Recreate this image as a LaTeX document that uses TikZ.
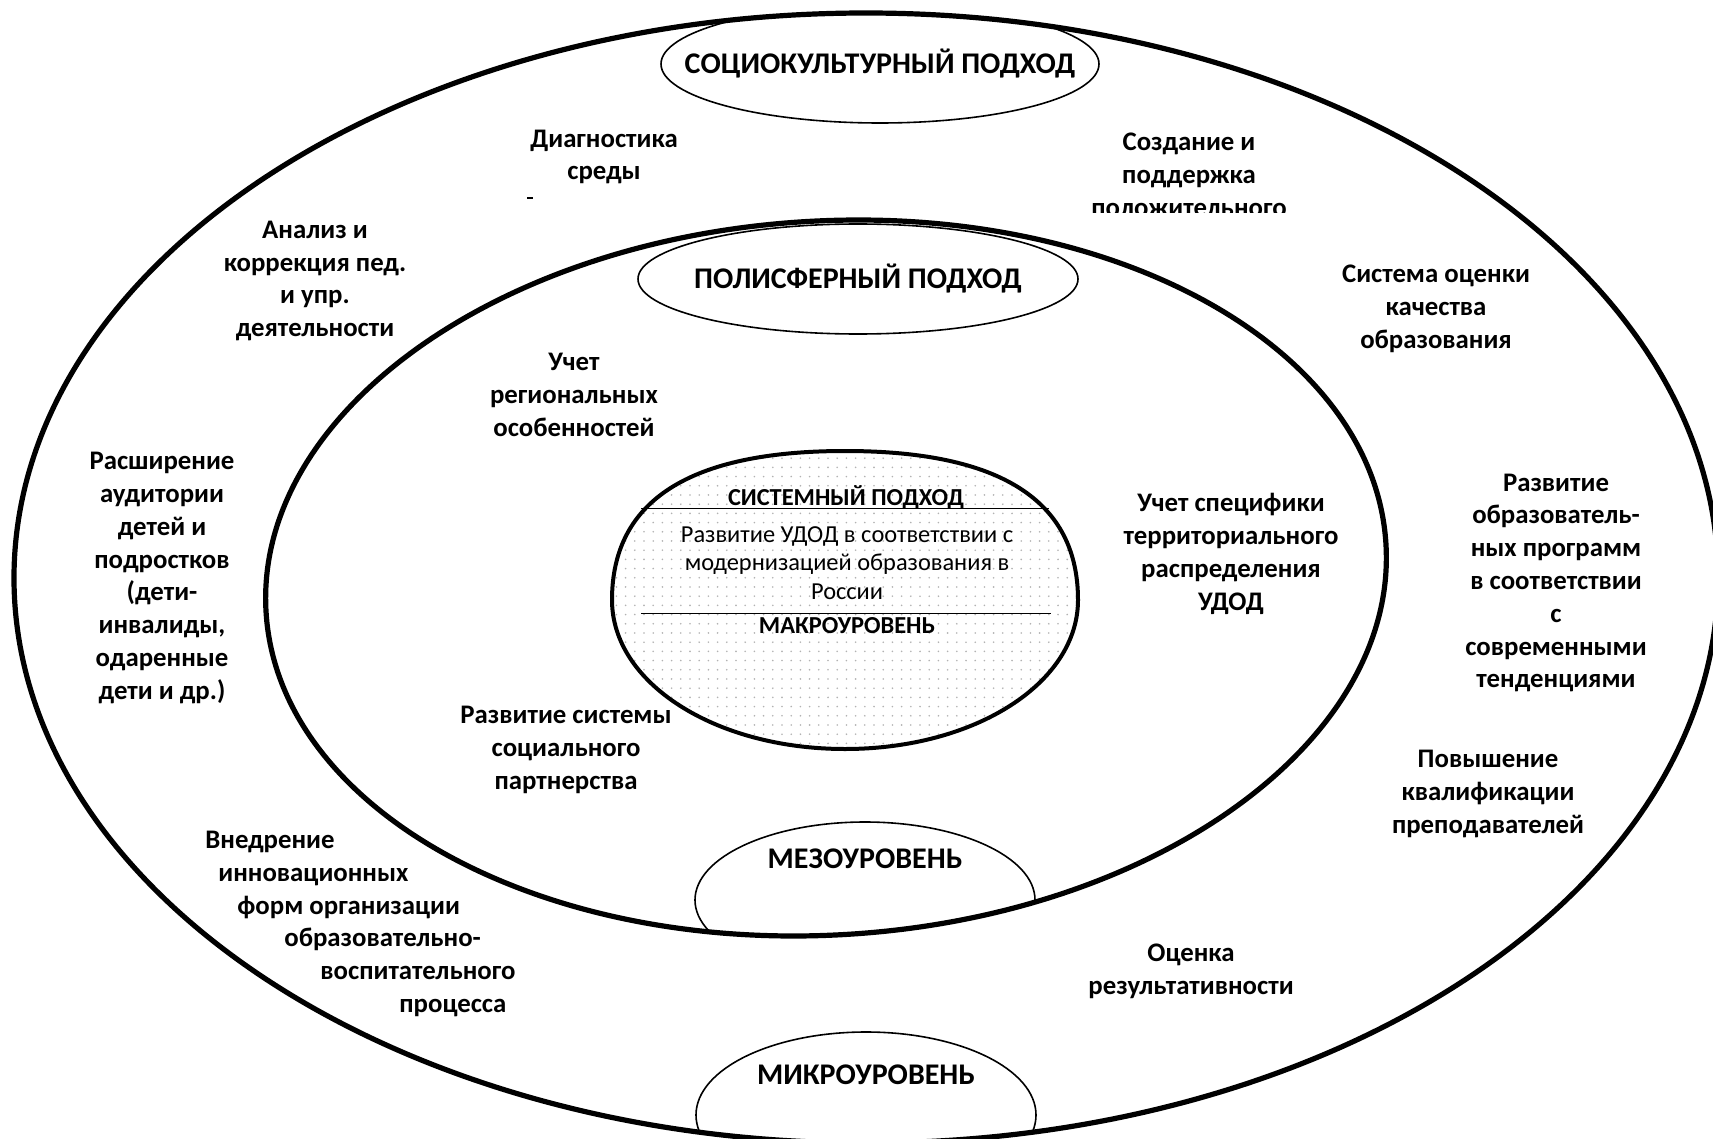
\documentclass[tikz,border=0pt]{standalone}
\usepackage{fontspec}
\setmainfont{Carlito}
\usetikzlibrary{shapes.geometric,patterns.meta}
\tikzset{
  ring/.style={line width=2.6pt},
  lab/.style={ellipse,draw,line width=0.8pt,inner sep=0pt},
  labtxt/.style={inner sep=0pt,font=\fontsize{15}{17}\selectfont\bfseries},
  coretxt/.style={inner sep=0pt,font=\fontsize{12.2}{14.4}\selectfont\bfseries},
  txt/.style={align=center,inner sep=0pt,font=\fontsize{13.4}{16.4}\selectfont\bfseries},
}

\begin{document}
\begin{tikzpicture}[x=0.5pt,y=-0.5pt]
  \useasboundingbox (0,0) rectangle (1713,1139);
  % core with dotted fill
  \draw[line width=2pt,preaction={fill=white},
        pattern={Dots[distance=4.6pt,radius=0.45pt]},pattern color=black!30]
    (1078,600) .. controls (1078,501) and (1001,451) .. (845,451)
    .. controls (689,451) and (612,501) .. (612,600)
    .. controls (612,683) and (715,749) .. (845,749)
    .. controls (975,749) and (1078,683) .. (1078,600) -- cycle;
  \coordinate (l1a) at (641,508); \coordinate (l1b) at (1049,508);
  \coordinate (l2a) at (641,613); \coordinate (l2b) at (1051,613);
  \draw[line width=0.5pt] (l1a) -- (l1b);
  \draw[line width=0.5pt] (l2a) -- (l2b);
  \node[coretxt] (sysname) at (846,497) {СИСТЕМНЫЙ ПОДХОД};
  \node[coretxt,align=center,font=\fontsize{12.2}{14.4}\selectfont] (systext) at (847,563)
    {Развитие УДОД в соответствии с\\ модернизацией образования в\\ России};
  \node[coretxt] (macro) at (847,626) {МАКРОУРОВЕНЬ};

  % label ellipses, cut by the rings
  \begin{scope}
    \clip (866,578) ellipse [x radius=426pt,y radius=282.5pt];
    \node[lab,minimum width=219pt,minimum height=59pt] (soc) at (880,64) {};
    \node[lab,minimum width=170pt,minimum height=83pt] (micro) at (866,1115) {};
  \end{scope}
  \begin{scope}
    \clip (826,578) ellipse [x radius=280.5pt,y radius=178.5pt,rotate=3.5];
    \node[lab,minimum width=220pt,minimum height=55pt] (poly) at (858,279) {};
    \node[lab,minimum width=170pt,minimum height=78pt] (meso) at (865,900) {};
  \end{scope}
  \node[labtxt] (soctxt) at (soc) {СОЦИОКУЛЬТУРНЫЙ ПОДХОД};
  \node[labtxt] (polytxt) at (poly) {ПОЛИСФЕРНЫЙ ПОДХОД};
  \node[labtxt] (mesotxt) at (865,859) {МЕЗОУРОВЕНЬ};
  \node[labtxt] (microtxt) at (866,1075) {МИКРОУРОВЕНЬ};

  % rings
  \draw[ring] (866,578) ellipse [x radius=426pt,y radius=282.5pt];
  \draw[ring] (826,578) ellipse [x radius=280.5pt,y radius=178.5pt,rotate=3.5];

  % outer ring texts
  \node[txt] (diag) at (604,157) {Диагностика\\ среды};
  \draw[line width=0.6pt] (527,198) -- (533,198);
  \begin{scope}
    \clip (1040,100) rectangle (1340,213);
    \node[txt] (climate) at (1189,175) {Создание и\\ поддержка\\ положительного};
  \end{scope}
  \node[txt] (analysis) at (315,281) {Анализ и\\ коррекция пед.\\ и упр.\\ деятельности};
  \node[txt] (quality) at (1436,309) {Система оценки\\ качества\\ образования};
  \node[txt] (audience) at (162,578) {Расширение\\ аудитории\\ детей и\\ подростков\\ (дети-\\ инвалиды,\\ одаренные\\ дети и др.)};
  \node[txt] (programs) at (1556,583) {Развитие\\ образователь-\\ ных программ\\ в соответствии\\ с\\ современными\\ тенденциями};
  \node[txt] (qualif) at (1488,794) {Повышение\\ квалификации\\ преподавателей};
  \node[txt,align=left,anchor=west] (innov) at (205,924) {Внедрение\\ \hspace*{6.5pt}инновационных\\ \hspace*{16pt}форм организации\\ \hspace*{39.5pt}образовательно-\\ \hspace*{57.5pt}воспитательного\\ \hspace*{97pt}процесса};
  \node[txt] (results) at (1191,971) {Оценка\\ результативности};

  % inner ring texts
  \node[txt] (region) at (574,395) {Учет\\ региональных\\ особенностей};
  \node[txt] (territory) at (1231,554) {Учет специфики\\ территориального\\ распределения\\ УДОД};
  \node[txt] (partner) at (566,750) {Развитие системы\\ социального\\ партнерства};
\end{tikzpicture}
\end{document}
